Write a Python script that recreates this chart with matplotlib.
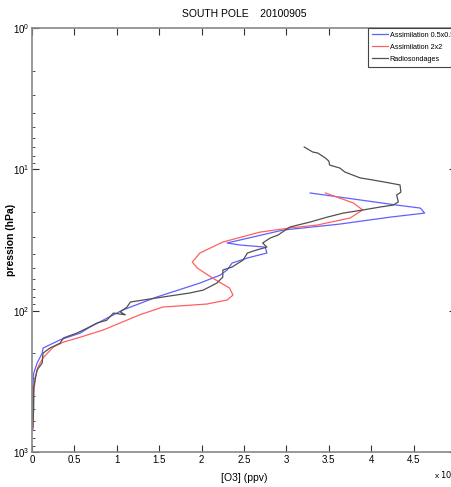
from matplotlib import pyplot as plt
from matplotlib.ticker import LogLocator, NullFormatter

# [O3] in units of 1e-6 ppv, pressure in hPa
o3_blue = [3.28, 4.30, 4.58, 4.63, 4.22, 3.63, 2.96, 2.30, 2.45, 2.75, 2.77, 2.54, 2.36,
           2.30, 2.22, 1.98, 1.47, 1.07, 0.96, 0.68, 0.57, 0.33, 0.13, 0.12, 0.06, 0.02,
           0.01, 0.01]
p_blue = [14.7, 17.9, 18.8, 20.4, 21.8, 24.4, 26.9, 33.2, 34.3, 35.5, 39.1, 42.4, 46.0,
          51.6, 56.0, 63.8, 80.1, 99, 107, 131, 144, 161, 184, 200, 235, 277, 347, 700]

o3_red = [3.46, 3.79, 3.90, 3.75, 3.36, 3.04, 2.69, 2.25, 1.98, 1.89, 1.95, 2.13, 2.33,
          2.37, 2.30, 2.06, 1.54, 1.27, 1.07, 0.84, 0.57, 0.37, 0.25, 0.13, 0.07, 0.04,
          0.02, 0.01]
p_red = [14.7, 17.3, 19.4, 22.1, 24.8, 26.0, 27.8, 32.7, 39.1, 45.3, 50.0, 58.8, 69.2,
         77.6, 84.1, 89.8, 94.3, 107, 120, 137, 154, 167, 181, 216, 251, 295, 383, 678]

o3_sonde = [3.21, 3.31, 3.37, 3.46, 3.50, 3.51, 3.63, 3.69, 3.87, 4.02, 4.22, 4.34, 4.35,
            4.30, 4.32, 4.26, 4.10, 3.90, 3.67, 3.48, 3.28, 3.04, 2.90, 2.81, 2.72, 2.77,
            2.65, 2.54, 2.49, 2.36, 2.25, 2.25, 2.18, 2.02, 1.86, 1.54, 1.31, 1.16, 1.12,
            1.04, 1.10, 0.96, 0.88, 0.77, 0.65, 0.53, 0.37, 0.33, 0.21, 0.13, 0.12, 0.06,
            0.02, 0.02, 0.01]
p_sonde = [6.95, 7.54, 7.67, 8.32, 8.74, 9.33, 9.79, 10.45, 11.5, 11.9, 12.5, 12.9, 14.5,
           15.2, 17.0, 17.9, 18.5, 19.4, 20.4, 21.8, 23.6, 25.6, 29.2, 30.6, 33.2, 35.5,
           37.2, 39.1, 43.8, 49.1, 51.6, 57.8, 63.8, 71.5, 75.0, 80.1, 84.1, 86.9, 94.3,
           102, 107, 104, 117, 122, 133, 144, 156, 170, 184, 200, 235, 263, 347, 481, 667]

labels = ['Assimilation 0.5x0.5', 'Assimilation 2x2', 'Radiosondages']
xticks = [0, 0.5, 1, 1.5, 2, 2.5, 3, 3.5, 4, 4.5]


def main():
    plt.rcParams['font.family'] = ['Liberation Sans', 'DejaVu Sans']
    fig = plt.figure(figsize=(4.52, 4.87), dpi=100)
    # axes box runs a little past the right edge, like the cropped original
    ax = fig.add_axes([32 / 452, 35 / 487, 424 / 452, 424 / 487])

    ax.plot(o3_blue, p_blue, color='#6060ff', lw=0.9, label=labels[0])
    ax.plot(o3_red, p_red, color='#ff6060', lw=0.9, label=labels[1])
    ax.plot(o3_sonde, p_sonde, color='#505050', lw=0.9, label=labels[2])

    ax.set_yscale('log')
    ax.set_ylim(1000, 1)
    ax.set_xlim(0, 5)
    ax.set_xticks(xticks)
    ax.set_xticklabels([('%g' % t) for t in xticks])
    ax.yaxis.set_major_locator(LogLocator(base=10, numticks=5))
    ax.yaxis.set_minor_locator(LogLocator(base=10, subs=range(2, 10), numticks=20))
    ax.yaxis.set_minor_formatter(NullFormatter())

    ax.tick_params(which='both', direction='in', top=True, right=True, labelsize=7,
                   color='#333333', pad=2)
    ax.tick_params(which='major', length=5)
    ax.tick_params(which='minor', length=2.5)
    for s in ax.spines.values():
        s.set_color('#888888')
        s.set_linewidth(1.2)

    ax.set_title('SOUTH POLE    20100905', fontsize=7.5, pad=8)
    ax.set_xlabel('[O3] (ppv)', fontsize=7.5, labelpad=6)
    ax.set_ylabel('pression (hPa)', fontsize=7.5, fontweight='bold')
    ax.yaxis.set_label_coords(-0.038, 0.5)
    fig.text(434 / 452, 6 / 487, r'x $10^{-6}$', fontsize=6, ha='left', va='bottom')

    leg = ax.legend(loc='upper left', bbox_to_anchor=(368 / 452, 459 / 487),
                    bbox_transform=fig.transFigure, borderaxespad=0, fontsize=5.2,
                    handlelength=2.2, handletextpad=0.3, borderpad=0.5,
                    labelspacing=0.7, fancybox=False, framealpha=1, edgecolor='#444444')
    leg.get_frame().set_linewidth(0.8)

    fig.savefig('out.png', dpi=100)


if __name__ == "__main__":
    main()
